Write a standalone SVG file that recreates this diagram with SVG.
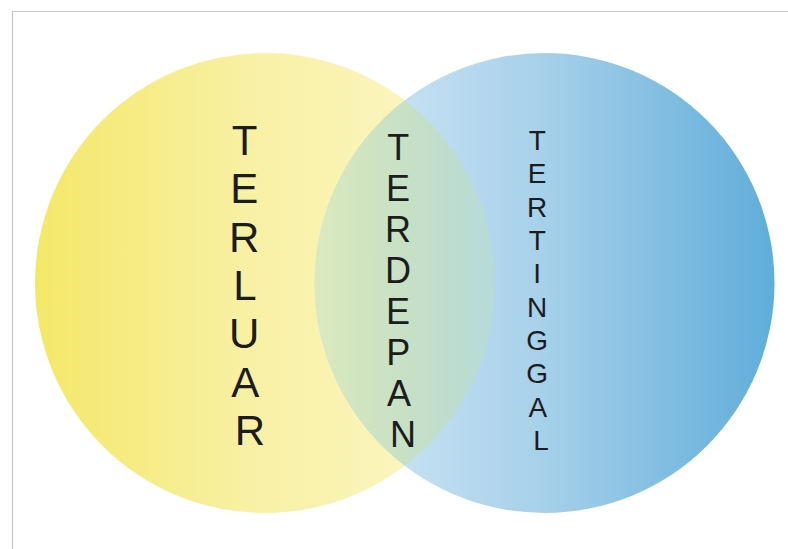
<svg xmlns="http://www.w3.org/2000/svg" width="788" height="549" viewBox="0 0 788 549">
  <style>
    .lbl { font-family: "Liberation Sans", Arial, sans-serif; fill: #1c1c1c; text-anchor: middle; }
    .big { font-size: 42px; }
    .mid { font-size: 36px; }
    .small { font-size: 28px; }
    .frame { fill: none; stroke: #c6c6c6; stroke-width: 1.2; }
  </style>
  <defs>
    <linearGradient id="gYellow" gradientUnits="userSpaceOnUse" x1="35" y1="0" x2="495" y2="0">
      <stop offset="0" stop-color="#f4e868"/>
      <stop offset="0.45" stop-color="#f8f0a2"/>
      <stop offset="1" stop-color="#fcf8cc"/>
    </linearGradient>
    <linearGradient id="gBlue" gradientUnits="userSpaceOnUse" x1="315" y1="0" x2="775" y2="0">
      <stop offset="0" stop-color="#d8eaf7"/>
      <stop offset="0.5" stop-color="#a6d0ea"/>
      <stop offset="1" stop-color="#5fadda"/>
    </linearGradient>
    <linearGradient id="gLens" gradientUnits="userSpaceOnUse" x1="315" y1="0" x2="495" y2="0">
      <stop offset="0" stop-color="#dbe9bd"/>
      <stop offset="0.5" stop-color="#c7e0c6"/>
      <stop offset="1" stop-color="#b6dad8"/>
    </linearGradient>
  </defs>
  <rect x="0" y="0" width="788" height="549" fill="#ffffff"/>
  <path class="frame" d="M12.5 549 V11.5 H788"/>
  <g id="node-terluar">
    <circle cx="265" cy="283" r="230" fill="url(#gYellow)"/>
  </g>
  <g id="node-tertinggal">
    <circle cx="544.5" cy="283" r="230" fill="url(#gBlue)"/>
  </g>
  <g id="node-terdepan">
    <path d="M404.75 100.3 A230 230 0 0 1 404.75 465.7 A230 230 0 0 1 404.75 100.3 Z" fill="url(#gLens)"/>
  </g>
  <g id="connectors"/>
  <g id="labels">
    <text class="lbl big">
      <tspan x="250" y="155">T</tspan>
      <tspan x="250" y="203">E</tspan>
      <tspan x="250" y="252">R</tspan>
      <tspan x="250" y="300">L</tspan>
      <tspan x="250" y="348">U</tspan>
      <tspan x="250" y="397">A</tspan>
      <tspan x="250" y="445">R</tspan>
    </text>
    <text class="lbl mid">
      <tspan x="403" y="160">T</tspan>
      <tspan x="403" y="201">E</tspan>
      <tspan x="403" y="242">R</tspan>
      <tspan x="403" y="283">D</tspan>
      <tspan x="403" y="324">E</tspan>
      <tspan x="403" y="365">P</tspan>
      <tspan x="403" y="406">A</tspan>
      <tspan x="403" y="447">N</tspan>
    </text>
    <text class="lbl small">
      <tspan x="541" y="150">T</tspan>
      <tspan x="541" y="183">E</tspan>
      <tspan x="541" y="217">R</tspan>
      <tspan x="541" y="250">T</tspan>
      <tspan x="541" y="283">I</tspan>
      <tspan x="541" y="317">N</tspan>
      <tspan x="541" y="350">G</tspan>
      <tspan x="541" y="383">G</tspan>
      <tspan x="541" y="417">A</tspan>
      <tspan x="541" y="450">L</tspan>
    </text>
  </g>
</svg>
